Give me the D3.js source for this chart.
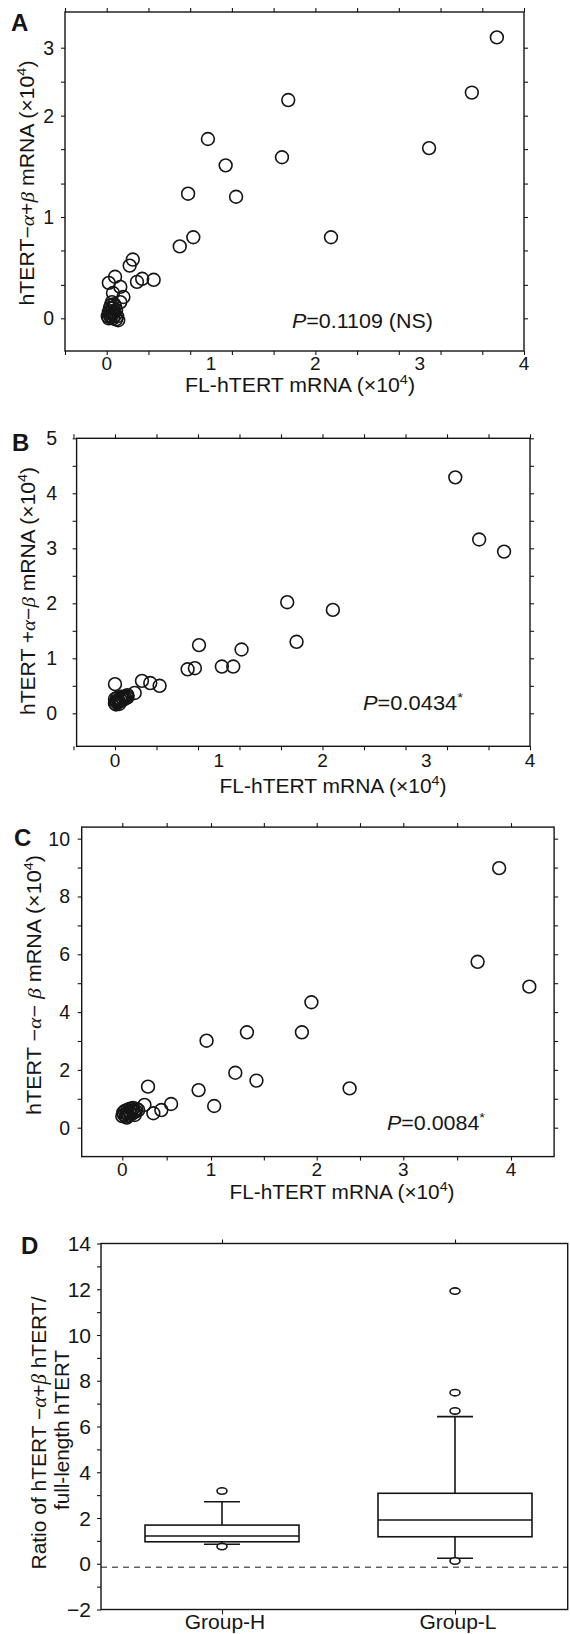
<!DOCTYPE html>
<html>
<head>
<meta charset="utf-8">
<title>hTERT variants vs FL-hTERT</title>
<style>
  body { margin: 0; background: #fff; }
  svg text { font-family: 'Liberation Sans', Arial, Helvetica, sans-serif; fill: #151515; }
  .frame { fill: none; stroke: #151515; stroke-width: 1.4; }
  .ax path.domain { display: none; }
  .ax line { stroke: #151515; stroke-width: 1.1; }
</style>
</head>
<body>
<svg width="570" height="1634"></svg>
<script src="https://d3js.org/d3.v7.min.js"></script>
<script>
// ---- data (x10^4 copies) ----

// panel A : FL-hTERT vs hTERT -a+b
const aFl = [3.74, 3.50, 3.09, 2.15, 1.74, 1.68, 1.24, 1.14, 0.97, 0.83,
             0.78, 0.70, 0.45, 0.34, 0.29, 0.25, 0.22, 0.16, 0.13, 0.13,
             0.08, 0.06, 0.02, 0.11,
             0.02, 0.04, 0.06, 0.09, 0.03, 0.05, 0.08, 0.02, 0.04, 0.07,
             0.09, 0.03, 0.06, 0.08, 0.04, 0.07, 0.05, 0.10, 0.01, 0.06]
const aVar = [3.15, 2.34, 1.68, 0.80, 2.23, 1.59, 1.20, 1.51, 1.77, 0.80,
              1.23, 0.71, 0.38, 0.39, 0.36, 0.58, 0.52, 0.21, 0.31, 0.16,
              0.41, 0.25, 0.35, -0.02,
              0.00, 0.01, 0.00, -0.01, 0.03, 0.04, 0.03, 0.06, 0.07, 0.06,
              0.08, 0.10, 0.10, 0.12, 0.13, 0.14, 0.16, 0.02, 0.02, 0.05]

// panel B : FL-hTERT vs hTERT +a-b
const bFl = [3.28, 3.51, 3.75, 1.66, 2.10, 1.75, 0.81, 1.22, 0.70, 0.77,
             1.03, 1.14, 0.00, 0.26, 0.34, 0.43, 0.19, 0.12,
             0.00, 0.01, 0.02, 0.03, 0.04, 0.05, 0.06, 0.07, 0.08, 0.09,
             0.10, 0.11, 0.00, 0.02, 0.04, 0.06, 0.12, 0.01]
const bVar = [4.29, 3.16, 2.94, 2.02, 1.88, 1.30, 1.24, 1.16, 0.80, 0.82,
              0.85, 0.85, 0.53, 0.59, 0.55, 0.50, 0.37, 0.33,
              0.18, 0.22, 0.20, 0.24, 0.21, 0.26, 0.23, 0.28, 0.25, 0.30,
              0.27, 0.31, 0.26, 0.28, 0.17, 0.30, 0.29, 0.16]

// panel C : FL-hTERT vs hTERT -a-b
const cFl = [3.89, 3.69, 4.17, 1.95, 1.86, 2.38, 0.95, 1.34, 1.23, 1.43,
             0.86, 1.03, 0.29, 0.25, 0.35, 0.44, 0.55, 0.18,
             0.00, 0.02, 0.04, 0.05, 0.07, 0.08, 0.10, 0.11, 0.13, 0.03,
             0.06, 0.09, 0.12, 0.14, 0.15, 0.01, 0.16, 0.05]
const cVar = [8.98, 5.74, 4.88, 4.34, 3.30, 1.36, 3.01, 3.30, 1.90, 1.63,
              1.30, 0.75, 1.42, 0.79, 0.50, 0.61, 0.82, 0.61,
              0.40, 0.45, 0.38, 0.50, 0.42, 0.55, 0.47, 0.60, 0.52, 0.58,
              0.62, 0.66, 0.68, 0.44, 0.58, 0.52, 0.65, 0.35]

// tick labels / tick marks
const flLabels = [0, 1, 2, 3, 4]
const flTicksAB = [-0.4, 0, 0.4, 0.8, 1.2, 1.6, 2.0, 2.4, 2.8, 3.2, 3.6, 4.0]
const flTicksC = [0, 0.5, 1, 1.5, 2, 2.5, 3, 3.5, 4]
const yLabelsA = [0, 1, 2, 3]
const yTicksA = [0, 0.33, 0.67, 1, 1.33, 1.67, 2, 2.5, 3]
const yLabelsB = [0, 1, 2, 3, 4, 5]
const yTicksB = [0, 0.5, 1, 1.5, 2, 2.5, 3, 3.5, 4, 4.5, 5]
const yLabelsC = [0, 2, 4, 6, 8, 10]
const yTicksC = [0, 1, 2, 3, 4, 5, 6, 7, 8, 9, 10]

// panel D : ratio boxplot
const groups = ['Group-H', 'Group-L']
const whiskerLo = [0.85, 0.24]
const q1 = [0.96, 1.18]
const medians = [1.21, 1.91]
const q3 = [1.69, 3.08]
const whiskerHi = [2.71, 6.43]
const outliers = [[3.18, 0.75], [11.92, 7.48, 6.68, 0.12]]
const yLabelsD = [-2, 0, 2, 4, 6, 8, 10, 12, 14]
const yTicksD = [-2, -1, 0, 1, 2, 3, 4, 5, 6, 7, 8, 9, 10, 11, 12, 13, 14]
const refLine = -0.15

const svg = d3.select('svg')
const ink = '#151515'

// text with italic / greek / superscript pieces
function rich(t, parts, fs) {
	let up = false
	parts.forEach(([s, kind]) => {
		let sp = t.append('tspan').text(s)
		if (up) { sp.attr('dy', fs * 0.42); up = false }
		if (kind == 'i') sp.style('font-style', 'italic')
		if (kind == 'g') sp.style('font-style', 'italic').style('font-family', "'Liberation Serif', serif")
		if (kind == 'sup') {
			sp.attr('dy', -fs * 0.42).style('font-size', (fs * 0.68) + 'px')
			up = true
		}
	})
	return t
}

function xTitle(g, cx, y, len) {
	let t = g.append('text').attr('x', cx).attr('y', y).attr('text-anchor', 'middle')
		.style('font-size', '19.5px').attr('textLength', len).attr('lengthAdjust', 'spacingAndGlyphs')
	rich(t, [['FL-hTERT mRNA (\u00d710'], ['4', 'sup'], [')']], 19.5)
}

function yTitle(g, x, cy, len, parts, fs) {
	let t = g.append('text').attr('transform', `translate(${x},${cy}) rotate(-90)`)
		.attr('text-anchor', 'middle').style('font-size', fs + 'px')
		.attr('textLength', len).attr('lengthAdjust', 'spacingAndGlyphs')
	rich(t, parts, fs)
}

function panelLetter(s, x, y) {
	svg.append('text').attr('x', x).attr('y', y).style('font-size', '24px')
		.style('font-weight', 'bold').text(s)
}

function scatter(p) {
	let g = svg.append('g')
	let xr = p.x.range(), yr = p.y.range()
	let x0 = xr[0], x1 = xr[xr.length - 1]
	let y0 = yr[0], y1 = yr[yr.length - 1]

	g.append('rect').attr('class', 'frame')
		.attr('x', x0).attr('y', y1).attr('width', x1 - x0).attr('height', y0 - y1)

	// tick marks on all four sides
	g.append('g').attr('class', 'ax').attr('transform', `translate(0,${y0})`)
		.call(d3.axisBottom(p.x).tickValues(p.xTicks).tickSize(4).tickFormat(''))
	g.append('g').attr('class', 'ax').attr('transform', `translate(0,${y1})`)
		.call(d3.axisTop(p.x).tickValues(p.xTicks).tickSize(4).tickFormat(''))
	g.append('g').attr('class', 'ax').attr('transform', `translate(${x0},0)`)
		.call(d3.axisLeft(p.y).tickValues(p.yTicks).tickSize(4).tickFormat(''))
	g.append('g').attr('class', 'ax').attr('transform', `translate(${x1},0)`)
		.call(d3.axisRight(p.y).tickValues(p.yTicks).tickSize(4).tickFormat(''))

	g.selectAll('.xl').data(p.xLabels).join('text')
		.attr('x', d => p.x(d)).attr('y', p.xLabelY)
		.attr('text-anchor', 'middle').style('font-size', '19px').text(d => d)
	g.selectAll('.yl').data(p.yLabels).join('text')
		.attr('x', p.yLabelX).attr('y', d => p.y(d)).attr('dy', '0.36em')
		.attr('text-anchor', 'end').style('font-size', '19.5px').text(d => d)

	g.selectAll('circle').data(d3.zip(p.xs, p.ys)).join('circle')
		.attr('cx', d => p.x(d[0])).attr('cy', d => p.y(d[1]))
		.attr('r', 6.4).attr('fill', 'none').attr('stroke', ink).attr('stroke-width', 1.6)

	let pt = g.append('text').attr('x', p.pX).attr('y', p.pY).style('font-size', '20px')
		.attr('textLength', p.pLen).attr('lengthAdjust', 'spacingAndGlyphs')
	rich(pt, p.pParts, 20)

	return g
}

// ---- A ----
let gA = scatter({
	x: d3.scaleLinear().domain([-0.4, 4]).range([65, 524]),
	y: d3.scaleLinear().domain([-0.33, 0, 1, 2, 3, 3.52]).range([351, 318.3, 217, 115.7, 47.7, 12]),
	xs: aFl, ys: aVar,
	xTicks: flTicksAB, yTicks: yTicksA,
	xLabels: flLabels, yLabels: yLabelsA,
	xLabelY: 370, yLabelX: 54,
	pX: 292, pY: 328, pLen: 141,
	pParts: [['P', 'i'], ['=0.1109 (NS)']]
})
xTitle(gA, 300, 392, 230)
yTitle(gA, 34, 183, 245, [['hTERT\u2212'], ['\u03b1', 'g'], ['+'], ['\u03b2', 'g'], [' mRNA (\u00d710'], ['4', 'sup'], [')']], 19.5)
panelLetter('A', 11, 31)

// ---- B ----
let gB = scatter({
	x: d3.scaleLinear().domain([-0.37, 4]).range([76.6, 530]),
	y: d3.scaleLinear().domain([-0.6, 5]).range([746.3, 438.3]),
	xs: bFl, ys: bVar,
	xTicks: flTicksAB, yTicks: yTicksB,
	xLabels: flLabels, yLabels: yLabelsB,
	xLabelY: 767, yLabelX: 57,
	pX: 363, pY: 710, pLen: 100,
	pParts: [['P', 'i'], ['=0.0434'], ['*', 'sup']]
})
xTitle(gB, 333, 793, 227)
yTitle(gB, 35, 591, 248, [['hTERT +'], ['\u03b1', 'g'], ['\u2212'], ['\u03b2', 'g'], [' mRNA (\u00d710'], ['4', 'sup'], [')']], 19.5)
panelLetter('B', 12, 451)

// ---- C ----
let gC = scatter({
	x: d3.scaleLinear().domain([-0.46, 0, 1, 2, 3, 4, 4.4]).range([81.7, 122.3, 211, 316.7, 403.3, 511, 554.1]),
	y: d3.scaleLinear().domain([-1, 10.4]).range([1156.6, 827.1]),
	xs: cFl, ys: cVar,
	xTicks: flTicksC, yTicks: yTicksC,
	xLabels: flLabels, yLabels: yLabelsC,
	xLabelY: 1176, yLabelX: 70,
	pX: 387, pY: 1130, pLen: 98,
	pParts: [['P', 'i'], ['=0.0084'], ['*', 'sup']]
})
xTitle(gC, 342, 1199, 225)
yTitle(gC, 41, 985, 260, [['hTERT \u2212'], ['\u03b1', 'g'], ['\u2212 '], ['\u03b2', 'g'], [' mRNA (\u00d710'], ['4', 'sup'], [')']], 19.5)
panelLetter('C', 14, 846)

// ---- D ----
let xD = d3.scalePoint().domain(groups).range([222, 455])
let yD = d3.scaleLinear().domain([-2, 14]).range([1609.5, 1243.5])
let dL = 101, dR = 567.7
let boxW = 154, capW = 36

let gD = svg.append('g')
gD.append('rect').attr('class', 'frame')
	.attr('x', dL).attr('y', yD(14)).attr('width', dR - dL).attr('height', yD(-2) - yD(14))

gD.append('g').attr('class', 'ax').attr('transform', `translate(${dL},0)`)
	.call(d3.axisLeft(yD).tickValues(yTicksD).tickSize(4).tickFormat(''))
gD.append('g').attr('class', 'ax').attr('transform', `translate(0,${yD(-2)})`)
	.call(d3.axisBottom(xD).tickSize(5).tickFormat(''))
gD.append('g').attr('class', 'ax').attr('transform', `translate(0,${yD(14)})`)
	.call(d3.axisTop(xD).tickSize(4).tickFormat(''))

gD.selectAll('.yl').data(yLabelsD).join('text')
	.attr('x', 91).attr('y', d => yD(d)).attr('dy', '0.36em')
	.attr('text-anchor', 'end').style('font-size', '21px')
	.text(d => d < 0 ? '\u2212' + Math.abs(d) : d)
gD.selectAll('.gl').data(groups).join('text')
	.attr('x', d => xD(d) + 3).attr('y', 1629)
	.attr('text-anchor', 'middle').style('font-size', '21px').text(d => d)

gD.append('line')
	.attr('x1', dL).attr('x2', dR).attr('y1', yD(refLine)).attr('y2', yD(refLine))
	.attr('stroke', ink).attr('stroke-width', 1).attr('stroke-dasharray', '6,5')

groups.forEach((grp, i) => {
	let cx = xD(grp)
	let b = gD.append('g').attr('stroke', ink).attr('stroke-width', 1.6).attr('fill', 'none')
	b.append('line').attr('x1', cx).attr('x2', cx).attr('y1', yD(q3[i])).attr('y2', yD(whiskerHi[i]))
	b.append('line').attr('x1', cx).attr('x2', cx).attr('y1', yD(q1[i])).attr('y2', yD(whiskerLo[i]))
	b.append('line').attr('x1', cx - capW / 2).attr('x2', cx + capW / 2)
		.attr('y1', yD(whiskerHi[i])).attr('y2', yD(whiskerHi[i]))
	b.append('line').attr('x1', cx - capW / 2).attr('x2', cx + capW / 2)
		.attr('y1', yD(whiskerLo[i])).attr('y2', yD(whiskerLo[i]))
	b.append('rect').attr('x', cx - boxW / 2).attr('y', yD(q3[i]))
		.attr('width', boxW).attr('height', yD(q1[i]) - yD(q3[i])).attr('fill', '#fff')
	b.append('line').attr('x1', cx - boxW / 2).attr('x2', cx + boxW / 2)
		.attr('y1', yD(medians[i])).attr('y2', yD(medians[i]))
	b.selectAll('ellipse').data(outliers[i]).join('ellipse')
		.attr('cx', cx).attr('cy', d => yD(d)).attr('rx', 5).attr('ry', 3.2)
		.attr('fill', '#fff')
})

let t1 = gD.append('text').attr('transform', `translate(46,1433) rotate(-90)`)
	.attr('text-anchor', 'middle').style('font-size', '20px')
	.attr('textLength', 273).attr('lengthAdjust', 'spacingAndGlyphs')
rich(t1, [['Ratio of hTERT \u2212'], ['\u03b1', 'g'], ['+'], ['\u03b2', 'g'], [' hTERT/']], 20)
gD.append('text').attr('transform', `translate(69,1430) rotate(-90)`)
	.attr('text-anchor', 'middle').style('font-size', '20px')
	.attr('textLength', 160).attr('lengthAdjust', 'spacingAndGlyphs')
	.text('full-length hTERT')
panelLetter('D', 21, 1254)
</script>
</body>
</html>
